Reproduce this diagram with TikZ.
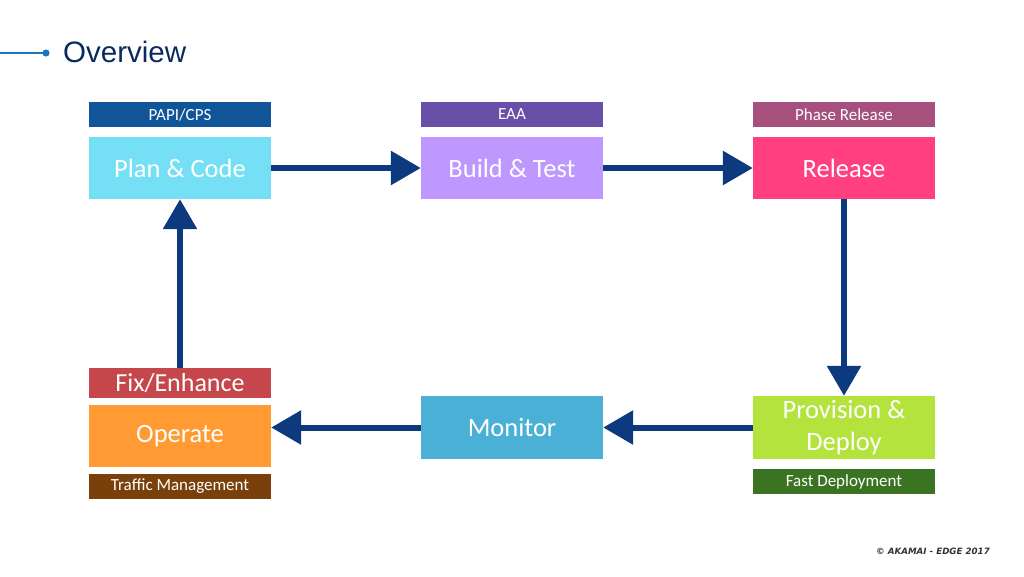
\documentclass[tikz,border=0pt]{standalone}
\usepackage{fontspec,xcolor,tikz}
\usetikzlibrary{arrows.meta}
\setmainfont{Carlito}
\newfontfamily\titlefont{Liberation Sans}
\newfontfamily\notefont{DejaVu Sans}
\definecolor{navy}{HTML}{0D3A7E}
\definecolor{titleink}{HTML}{0B2A5C}
\definecolor{rule}{HTML}{1F74C0}
\definecolor{papi}{HTML}{0F5598}
\definecolor{eaa}{HTML}{6A4FA8}
\definecolor{phase}{HTML}{A5507D}
\definecolor{plancol}{HTML}{75E0F5}
\definecolor{buildcol}{HTML}{BF98FF}
\definecolor{relcol}{HTML}{FF3F80}
\definecolor{provcol}{HTML}{B5E33E}
\definecolor{fastcol}{HTML}{3A7422}
\definecolor{moncol}{HTML}{4BB0D5}
\definecolor{opcol}{HTML}{FF9B32}
\definecolor{fixcol}{HTML}{C5474B}
\definecolor{trafcol}{HTML}{7A400B}
\definecolor{notegrey}{HTML}{333333}
\newcommand{\tagfont}{\fontsize{17}{19}\selectfont}
\newcommand{\boxfont}{\fontsize{26.5}{32}\selectfont}
\tikzset{stufe/.style={inner sep=0,text=white,minimum width=182,minimum height=62,font=\boxfont,align=center},
  etikett/.style={inner sep=0,text=white,minimum width=182,minimum height=25,font=\tagfont},
  flusspfeil/.style={navy,line width=6,-{Triangle[length=30,width=33]}}}

\begin{document}
\begin{tikzpicture}[x=1pt,y=-1pt]
\useasboundingbox (0,0) rectangle (1024,576);
% title
\coordinate (punkt) at (46,53);
\draw[rule,line width=2] (0,53) -- (punkt);
\fill[rule] (punkt) circle (3.6);
\node[anchor=west,inner sep=0,text=titleink,font=\titlefont\fontsize{29.5}{33}\selectfont] (titel) at (63,52) {Overview};
% top row
\node[etikett,fill=papi] (papi) at (180,114.5) {PAPI/CPS};
\node[stufe,fill=plancol] (plan) at (180,168) {Plan \& Code};
\node[etikett,fill=eaa] (eaa) at (512,114.5) {EAA};
\node[stufe,fill=buildcol] (build) at (512,168) {Build \& Test};
\node[etikett,fill=phase] (phase) at (844,114.5) {Phase Release};
\node[stufe,fill=relcol] (release) at (844,168) {Release};
% bottom row
\node[stufe,fill=provcol,minimum height=63] (prov) at (844,427.5) {Provision \&\\Deploy};
\node[etikett,fill=fastcol] (fast) at (844,481.5) {Fast Deployment};
\node[stufe,fill=moncol,minimum height=63] (monitor) at (512,427.5) {Monitor};
\node[stufe,fill=opcol] (operate) at (180,436) {Operate};
\node[etikett,fill=fixcol,minimum height=30,font=\fontsize{26}{28}\selectfont] (fix) at (180,383) {Fix/Enhance};
\node[etikett,fill=trafcol] (traffic) at (180,486.5) {Traffic Management};
% cycle
\draw[flusspfeil] (plan) -- (build);
\draw[flusspfeil] (build) -- (release);
\draw[flusspfeil] (release) -- (prov);
\draw[flusspfeil] (prov) -- (monitor);
\draw[flusspfeil] (monitor.west) -- (monitor.west -| operate.east);
\draw[flusspfeil] (fix) -- (plan);
% footer
\node[anchor=east,inner sep=0,text=notegrey,font=\notefont\bfseries\itshape\fontsize{8.7}{10}\selectfont] (copy) at (990,551) {© AKAMAI - EDGE 2017};
\end{tikzpicture}
\end{document}
